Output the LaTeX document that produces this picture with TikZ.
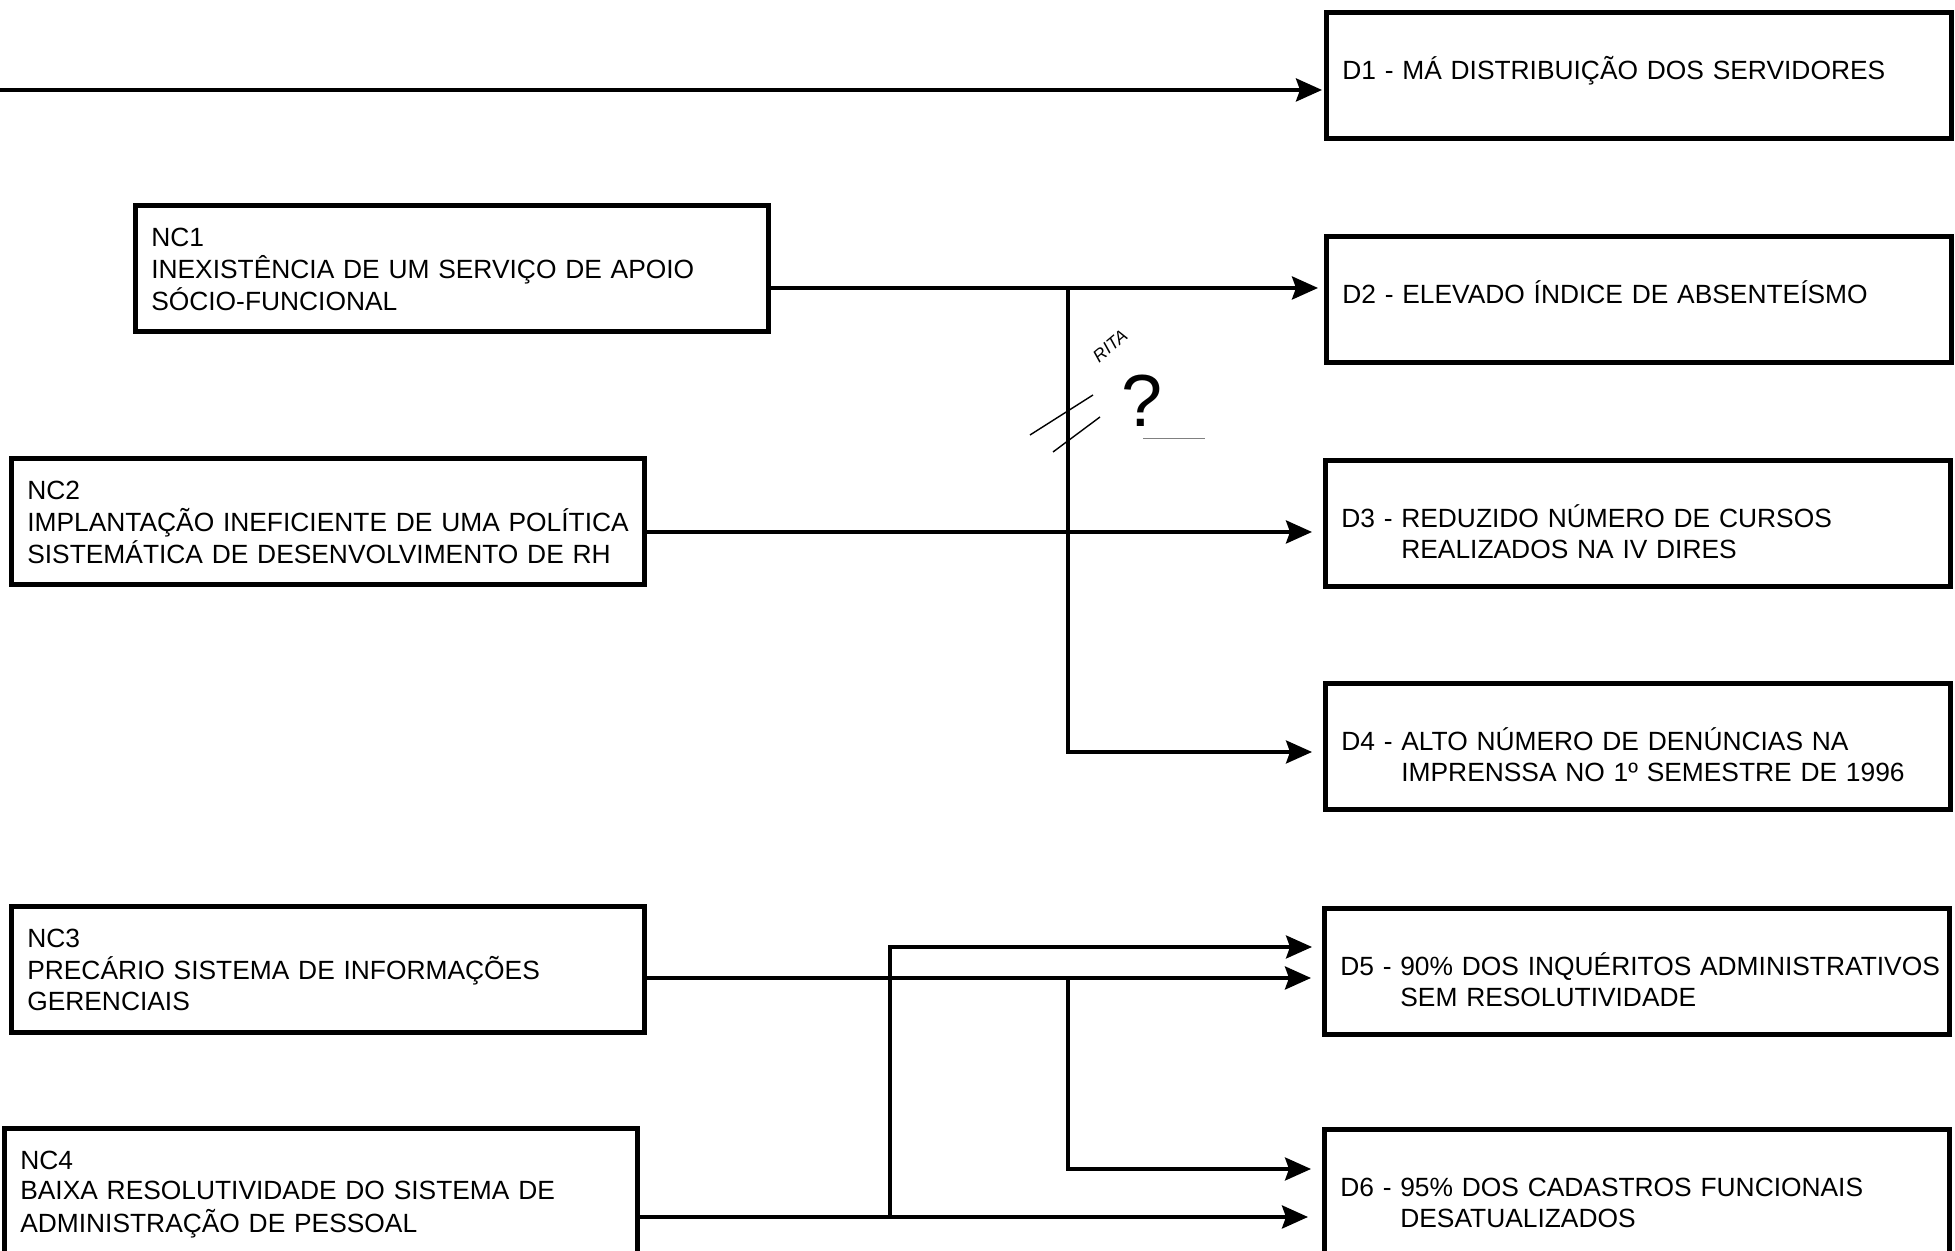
\documentclass[tikz,border=0pt]{standalone}
\usepackage{fontspec}
\setmainfont{Liberation Sans}
\usepackage{tikz}
\usetikzlibrary{arrows.meta,calc}

\newcommand{\txtlines}[1]{\begin{tabular}[t]{@{}l@{}}#1\end{tabular}}
\newcommand{\dtxt}[2]{\mbox{#1 - \txtlines{#2}}}

\begin{document}
\begin{tikzpicture}[
	box/.style={draw,line width=1.3pt,anchor=north west,align=left,
		inner ysep=0pt,inner xsep=1.6mm,font=\fontsize{7.5}{8.7}\selectfont},
	ncbox/.style={box,text width=6.01cm,text height=4.1mm,text depth=8.5mm},
	dbox/.style={box,text width=5.93cm,text height=6.75mm,text depth=5.85mm},
	link/.style={line width=1.1pt,>={Stealth[length=2.6mm,width=2.3mm,inset=0.4mm]}},
	branch/.style={link,line width=0.9pt}]

	% Page frame
	\useasboundingbox (0,0) rectangle (19.55,12.51);
	\clip (0,0) rectangle (19.55,12.51);

	% Causes (NC)
	\node[ncbox] (nc1) at (1.33,10.48) {\txtlines{NC1\\INEXISTÊNCIA DE UM SERVIÇO DE APOIO\\SÓCIO-FUNCIONAL}};
	\node[ncbox] (nc2) at (0.09,7.95) {\txtlines{NC2\\IMPLANTAÇÃO INEFICIENTE DE UMA POLÍTICA\\SISTEMÁTICA DE DESENVOLVIMENTO DE RH}};
	\node[ncbox] (nc3) at (0.09,3.47) {\txtlines{NC3\\PRECÁRIO SISTEMA DE INFORMAÇÕES\\GERENCIAIS}};
	\node[ncbox] (nc4) at (0.02,1.25) {\txtlines{NC4\\BAIXA RESOLUTIVIDADE DO SISTEMA DE\\ADMINISTRAÇÃO DE PESSOAL}};

	% Problems (D)
	\node[dbox] (d1) at (13.24,12.41) {\dtxt{D1}{MÁ DISTRIBUIÇÃO DOS SERVIDORES}};
	\node[dbox] (d2) at (13.24,10.17) {\dtxt{D2}{ELEVADO ÍNDICE DE ABSENTEÍSMO}};
	\node[dbox] (d3) at (13.23,7.93) {\dtxt{D3}{REDUZIDO NÚMERO DE CURSOS\\REALIZADOS NA IV DIRES}};
	\node[dbox] (d4) at (13.23,5.70) {\dtxt{D4}{ALTO NÚMERO DE DENÚNCIAS NA\\IMPRENSSA NO 1º SEMESTRE DE 1996}};
	\node[dbox] (d5) at (13.22,3.45) {\dtxt{D5}{90\% DOS INQUÉRITOS ADMINISTRATIVOS\\SEM RESOLUTIVIDADE}};
	\node[dbox] (d6) at (13.22,1.24) {\dtxt{D6}{95\% DOS CADASTROS FUNCIONAIS\\DESATUALIZADOS}};

	% Links
	\coordinate (in1) at (0,11.61);
	\draw[link,->,shorten >=0.2mm] (in1) -- (in1 -| d1.west);
	\draw[link,->,shorten >=0.6mm] (nc1.east |- 0,9.63) -- (d2.west |- 0,9.63);
	\draw[link,->,shorten >=1.1mm] (nc2.east |- 0,7.19) -- (d3.west |- 0,7.19);
	\draw[link,->,shorten >=1.1mm] (nc3.east |- 0,2.73) -- (d5.west |- 0,2.73);
	\draw[link,->,shorten >=1.4mm] (nc4.east |- 0,0.34) -- (d6.west |- 0,0.34);

	% Branches
	\coordinate (j1) at (10.68,9.63);
	\coordinate (j2) at (8.90,0.34);
	\coordinate (j3) at (10.68,2.73);
	\draw[branch,->,shorten >=1.1mm] (j1) |- (d4.west |- 0,4.99);
	\draw[branch,->,shorten >=1.0mm] (j2) |- (d5.west |- 0,3.04);
	\draw[branch,->,shorten >=1.1mm] (j3) |- (d6.west |- 0,0.82);

	% Pencil marks on the sheet
	\node[rotate=40,inner sep=0pt,font=\fontsize{5}{5}\selectfont\itshape] (rita) at (11.10,9.05) {RITA};
	\node[inner sep=0pt,font=\fontsize{21}{21}\selectfont] (qmark) at (11.42,8.50) {?};
	\draw[thin] (10.30,8.16) -- (10.93,8.56);
	\draw[thin] (10.53,7.99) -- (11.00,8.34);
	\draw[very thin,gray] (11.43,8.13) -- (12.05,8.13);
\end{tikzpicture}
\end{document}
